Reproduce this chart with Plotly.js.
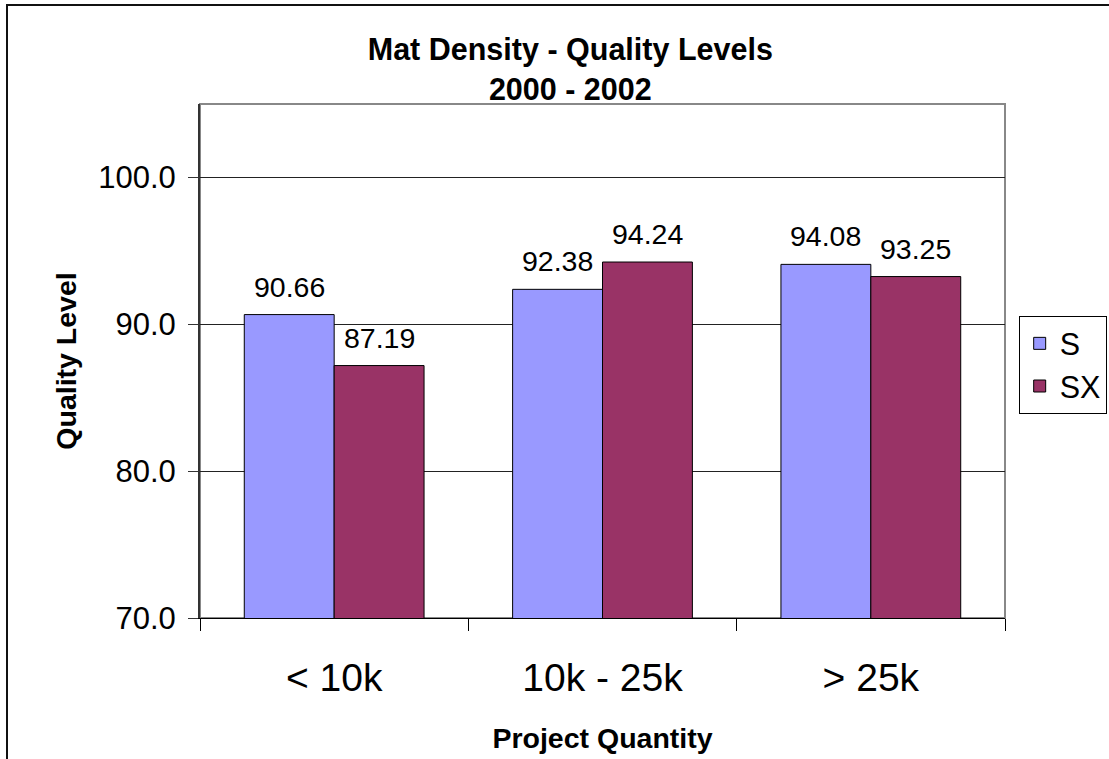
<!DOCTYPE html>
<html>
<head>
<meta charset="utf-8">
<script src="https://cdn.plot.ly/plotly-3.0.1.min.js"></script>
<style>
  html, body { margin: 0; padding: 0; background: #fff; }
  #wrap { position: relative; width: 1109px; height: 759px; overflow: hidden; }
  #frame { position: absolute; left: 6px; top: 4px; width: 1200px; height: 900px;
           border-top: 2px solid #111; border-left: 2px solid #111; pointer-events: none; z-index: 2; }
  #chart { position: absolute; left: 0; top: 0; width: 1109px; height: 759px; }
</style>
</head>
<body>
<div id="wrap">
  <div id="chart"></div>
  <div id="frame"></div>
</div>
<script>
const categories = ["< 10k", "10k - 25k", "> 25k"];
const seriesNames = ["S", "SX"];
const valuesS = [90.66, 92.38, 94.08];
const valuesSX = [87.19, 94.24, 93.25];
const yTickValues = [70, 80, 90, 100];
const titleLines = ["Mat Density - Quality Levels", "2000 - 2002"];
const xTitle = "Project Quantity";
const yTitle = "Quality Level";

const FONT = "Liberation Sans, Arial, sans-serif";
const seriesValues = [valuesS, valuesSX];
const seriesColors = ["#9999FF", "#993366"];

const data = seriesNames.map((name, i) => ({
  type: "bar",
  name: name,
  x: categories,
  y: seriesValues[i],
  marker: { color: seriesColors[i], line: { color: "#000", width: 1 } },
  hoverinfo: "skip"
}));

// value labels above each bar (offset to the bar's half of the group)
const BAR_HALF_PX = 45;
const annotations = [];
seriesNames.forEach((name, i) => {
  seriesValues[i].forEach((v, j) => {
    annotations.push({
      x: categories[j], y: v, xref: "x", yref: "y",
      text: v.toFixed(2), showarrow: false,
      xanchor: "center", yanchor: "bottom",
      xshift: (i === 0 ? -1 : 1) * BAR_HALF_PX, yshift: 10,
      font: { family: FONT, size: 28.5, color: "#000" }
    });
  });
});

const layout = {
  width: 1109,
  height: 759,
  margin: { l: 200, r: 104, t: 104, b: 141, pad: 0, autoexpand: false },
  paper_bgcolor: "rgba(0,0,0,0)",
  plot_bgcolor: "#fff",
  showlegend: true,
  barmode: "group",
  bargap: 0.33,
  bargroupgap: 0,
  font: { family: FONT, color: "#000" },
  title: {
    text: titleLines.join("<br>"),
    font: { family: FONT, size: 30.5, color: "#000", weight: "bold" },
    xref: "paper", x: 0.46, xanchor: "center",
    yref: "container", y: 1 - 60 / 759, yanchor: "top"
  },
  xaxis: {
    type: "category",
    showgrid: false,
    showline: true, linecolor: "#000", linewidth: 1,
    ticks: "outside", tickson: "boundaries", ticklen: 12, tickcolor: "#000", tickwidth: 1,
    ticklabelstandoff: 25,
    tickfont: { family: FONT, size: 39, color: "#000" },
    title: { text: xTitle, font: { family: FONT, size: 28.5, color: "#000", weight: "bold" }, standoff: 30 },
    automargin: false,
    fixedrange: true
  },
  yaxis: {
    range: [70, 105],
    tickmode: "array",
    tickvals: yTickValues,
    ticktext: yTickValues.map(v => v.toFixed(1)),
    showgrid: true, gridcolor: "#222", gridwidth: 1,
    zeroline: false,
    showline: true, linecolor: "#333", linewidth: 2,
    ticks: "outside", ticklen: 10, tickcolor: "#333", tickwidth: 1,
    ticklabelstandoff: 6,
    tickfont: { family: FONT, size: 31, color: "#000" },
    title: { text: yTitle, font: { family: FONT, size: 28.5, color: "#000", weight: "bold" }, standoff: 13 },
    automargin: false,
    fixedrange: true
  },
  legend: {
    x: 1.017, xanchor: "left",
    y: 0.5875, yanchor: "top",
    bgcolor: "#fff",
    bordercolor: "#000", borderwidth: 1,
    font: { family: FONT, size: 30.5, color: "#000" },
    itemwidth: 30,
    tracegroupgap: 0
  },
  annotations: annotations,
  shapes: [
    { type: "rect", xref: "paper", yref: "paper", x0: 0, x1: 1, y0: 0, y1: 1,
      line: { color: "#888", width: 2 }, layer: "below" }
  ]
};

Plotly.newPlot("chart", data, layout, { displayModeBar: false, staticPlot: true });
</script>
</body>
</html>
